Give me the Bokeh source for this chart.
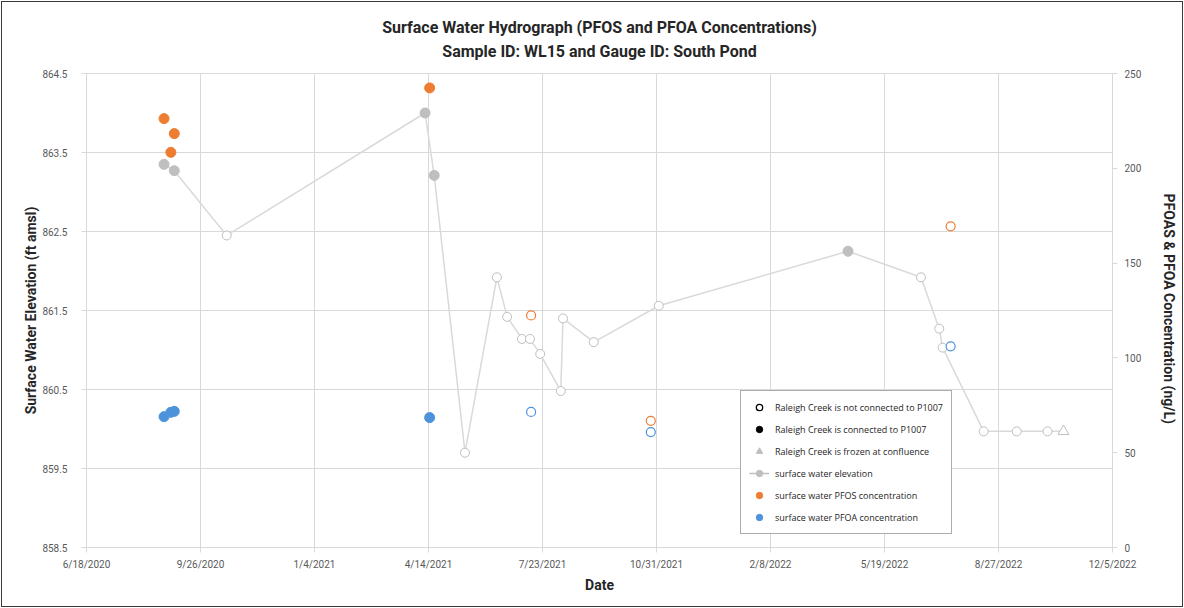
import math
import pandas as pd
from bokeh.plotting import figure
from bokeh.models import Range1d, LinearAxis, FixedTicker, Title, Legend, LegendItem
from bokeh.embed import file_html
from bokeh.resources import INLINE

# ---------------- data ----------------
title_lines = ["Surface Water Hydrograph (PFOS and PFOA Concentrations)",
               "Sample ID: WL15 and Gauge ID: South Pond"]

x_tick_labels = ["6/18/2020", "9/26/2020", "1/4/2021", "4/14/2021", "7/23/2021",
                 "10/31/2021", "2/8/2022", "5/19/2022", "8/27/2022", "12/5/2022"]

elev_dates = ["2020-08-25", "2020-09-03", "2020-10-19", "2021-04-11", "2021-04-19",
              "2021-05-16", "2021-06-13", "2021-06-22", "2021-07-05", "2021-07-12",
              "2021-07-21", "2021-08-08", "2021-08-10", "2021-09-06", "2021-11-02",
              "2022-04-17", "2022-06-20", "2022-07-06", "2022-07-09", "2022-08-14",
              "2022-09-12", "2022-10-09", "2022-10-23"]
elev_values = [863.35, 863.27, 862.45, 864.00, 863.21,
               859.70, 861.92, 861.42, 861.14, 861.14,
               860.95, 860.48, 861.40, 861.10, 861.56,
               862.25, 861.92, 861.27, 861.03, 859.97,
               859.97, 859.97, 859.97]
elev_status = ["connected", "connected", "not", "connected", "connected",
               "not", "not", "not", "not", "not",
               "not", "not", "not", "not", "not",
               "connected", "not", "not", "not", "not",
               "not", "not", "frozen"]

conc_dates = ["2020-08-25", "2020-08-31", "2020-09-03", "2021-04-15",
              "2021-07-13", "2021-10-26", "2022-07-16"]
pfos_values = [226.2, 208.4, 218.3, 242.4, 122.4, 66.8, 169.4]
pfoa_values = [69.0, 71.3, 71.8, 68.5, 71.5, 60.9, 106.1]
conc_status = ["connected", "connected", "connected", "connected", "not", "not", "not"]

# ---------------- styles ----------------
FONT = "Roboto"
GRID = "#d9d9d9"
GRAY = "#bfbfbf"
ORANGE = "#ED7D31"
BLUE = "#4C93DC"
TXT = "#595959"

ed = pd.to_datetime(elev_dates)
cd = pd.to_datetime(conc_dates)
tick_dt = pd.to_datetime(x_tick_labels, format="%m/%d/%Y")
tick_ms = [int(t.value // 10**6) for t in tick_dt]

p = figure(width=1180, height=604, x_axis_type="datetime",
           x_range=Range1d(tick_dt[0], tick_dt[-1]),
           y_range=Range1d(858.5, 864.5),
           output_backend="svg", toolbar_location=None,
           min_border_left=84, min_border_right=70,
           min_border_top=71, min_border_bottom=59,
           background_fill_color="white", border_fill_color="white")
p.extra_y_ranges = {"conc": Range1d(0, 250)}

p.title = Title(text="\n".join(title_lines), align="center", text_align="center",
                text_font=FONT, text_font_size="16px", text_font_style="bold",
                text_color="#262626", text_line_height=1.3, standoff=24)

p.outline_line_color = GRID
p.styles = {"margin": "2px", "outline": "1.5px solid #3a3a3a", "outline-offset": "0px"}

# axes
xa = p.xaxis[0]
xa.ticker = FixedTicker(ticks=tick_ms)
xa.major_label_overrides = {ms: lab for ms, lab in zip(tick_ms, x_tick_labels)}
xa.axis_label = "Date"

ya = p.yaxis[0]
ya.ticker = FixedTicker(ticks=[858.5, 859.5, 860.5, 861.5, 862.5, 863.5, 864.5])
ya.axis_label = "Surface Water Elevation (ft amsl)"

ra = LinearAxis(y_range_name="conc", ticker=FixedTicker(ticks=[0, 50, 100, 150, 200, 250]),
                axis_label="PFOAS &  PFOA Concentration (ng/L)")
p.add_layout(ra, "right")

for ax in [xa, ya, ra]:
    ax.axis_line_color = GRID
    ax.major_tick_line_color = GRID
    ax.major_tick_out = 5
    ax.major_tick_in = 0
    ax.minor_tick_line_color = None
    ax.major_label_text_font = FONT
    ax.major_label_text_font_size = "10px"
    ax.major_label_text_color = TXT
    ax.axis_label_text_font = FONT
    ax.axis_label_text_font_size = "14px"
    ax.axis_label_text_font_style = "bold"
    ax.axis_label_text_color = "#262626"
xa.major_label_standoff = 6
xa.axis_label_standoff = 4
ya.major_label_standoff = 14
ya.axis_label_standoff = 0
ra.major_label_standoff = 7
ra.axis_label_standoff = 17

p.xgrid.grid_line_color = GRID
p.ygrid.grid_line_color = GRID
p.xgrid.ticker = FixedTicker(ticks=tick_ms)

# ---------------- glyphs ----------------
p.line(ed, elev_values, line_color=GRID, line_width=1.5)

def sel(xs, ys, sts, key):
    return [x for x, s in zip(xs, sts) if s == key], [y for y, s in zip(ys, sts) if s == key]

x1, y1 = sel(list(ed), elev_values, elev_status, "connected")
p.scatter(x1, y1, size=10, marker="circle", fill_color=GRAY, line_color=GRAY)
x2, y2 = sel(list(ed), elev_values, elev_status, "not")
p.scatter(x2, y2, size=9, marker="circle", fill_color="white", line_color=GRAY, line_width=1)
x3, y3 = sel(list(ed), elev_values, elev_status, "frozen")
p.scatter(x3, y3, size=11, marker="triangle", fill_color="white", line_color=GRAY, line_width=1)

for vals, col in [(pfos_values, ORANGE), (pfoa_values, BLUE)]:
    xc, yc = sel(list(cd), vals, conc_status, "connected")
    p.scatter(xc, yc, size=10, marker="circle", fill_color=col, line_color=col,
              y_range_name="conc")
    xn, yn = sel(list(cd), vals, conc_status, "not")
    p.scatter(xn, yn, size=9, marker="circle", fill_color="white", line_color=col,
              line_width=1.2, y_range_name="conc")

# ---------------- legend (proxy renderers, not drawn in plot: NaN coords) ----------------
NAN = [math.nan]
r_not = p.scatter(NAN, NAN, marker="circle", fill_color="white", line_color="black", line_width=1.3)
r_con = p.scatter(NAN, NAN, marker="circle", fill_color="black", line_color="black")
r_frz = p.scatter(NAN, NAN, marker="triangle", fill_color=GRAY, line_color=GRAY)
r_el_l = p.line(NAN, NAN, line_color=GRAY, line_width=1.5)
r_el_m = p.scatter(NAN, NAN, marker="circle", fill_color=GRAY, line_color=GRAY)
r_pfos = p.scatter(NAN, NAN, marker="circle", fill_color=ORANGE, line_color=ORANGE)
r_pfoa = p.scatter(NAN, NAN, marker="circle", fill_color=BLUE, line_color=BLUE)

legend = Legend(items=[
    LegendItem(label="Raleigh Creek is not connected to P1007", renderers=[r_not]),
    LegendItem(label="Raleigh Creek is connected to P1007", renderers=[r_con]),
    LegendItem(label="Raleigh Creek is frozen at confluence", renderers=[r_frz]),
    LegendItem(label="surface water elevation", renderers=[r_el_l, r_el_m]),
    LegendItem(label="surface water PFOS concentration", renderers=[r_pfos]),
    LegendItem(label="surface water PFOA concentration", renderers=[r_pfoa]),
], location=(654, 13))
legend.label_text_font = "Open Sans"
legend.label_text_font_size = "9px"
legend.label_text_color = "#262626"
legend.glyph_width = 20
legend.glyph_height = 16
legend.label_height = 16
legend.spacing = 6
legend.padding = 8
legend.margin = 0
legend.label_standoff = 6
legend.border_line_color = "#595959"
legend.border_line_width = 1
legend.background_fill_color = "white"
legend.background_fill_alpha = 1
p.add_layout(legend, "center")

open("out.html", "w").write(file_html(p, INLINE))
